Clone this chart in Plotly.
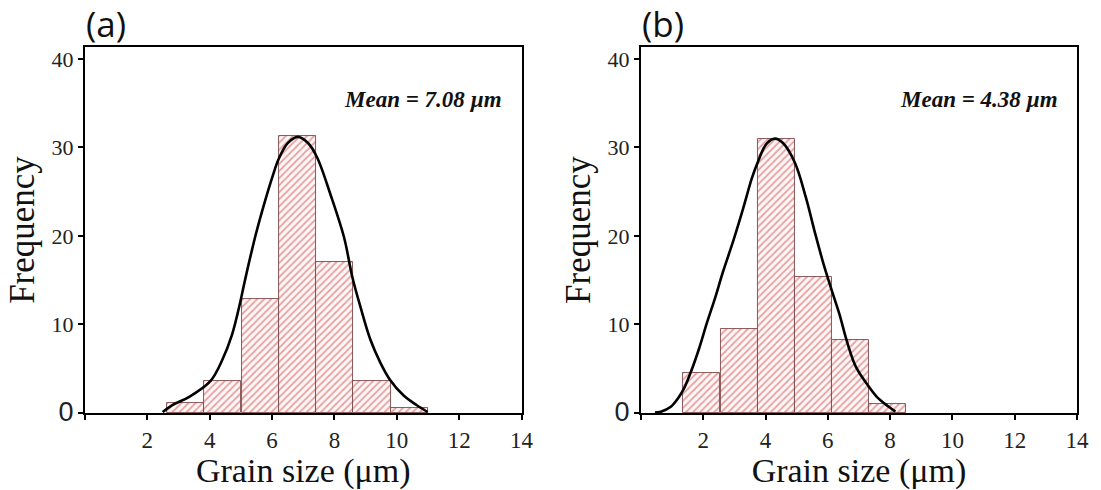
import plotly.graph_objects as go

# ---------------- data ----------------
# panel (a)
a_bin_centers = [3.23, 4.42, 5.62, 6.81, 8.01, 9.20, 10.40]
a_bin_width = 1.195
a_freq = [1.1, 3.6, 12.9, 31.3, 17.1, 3.6, 0.6]
a_curve_x = [2.49, 2.80, 3.33, 4.02, 4.39, 4.71, 4.97, 5.13, 5.45, 5.77, 6.03, 6.21, 6.50,
             6.83, 7.15, 7.44, 7.88, 8.31, 8.57, 8.84, 9.15, 9.47, 9.79, 10.21, 10.63, 10.99]
a_curve_y = [0.1, 0.9, 1.8, 3.6, 5.9, 8.8, 12.4, 15.0, 19.8, 23.9, 26.9, 28.7, 30.5,
             31.2, 30.5, 28.9, 24.6, 19.8, 15.4, 11.9, 8.3, 5.7, 3.7, 2.0, 0.9, 0.1]
a_mean_text = "Mean = 7.08 µm"

# panel (b)
b_bin_centers = [1.95, 3.15, 4.34, 5.53, 6.72, 7.91]
b_bin_width = 1.19
b_freq = [4.5, 9.5, 31.0, 15.4, 8.2, 1.05]
b_curve_x = [0.45, 0.64, 0.96, 1.22, 1.38, 1.60, 1.86, 2.12, 2.39, 2.63, 2.97, 3.29, 3.56, 3.77,
             4.03, 4.30, 4.56, 4.94, 5.30, 5.60, 5.89, 6.15, 6.37, 6.63, 6.89, 7.21, 7.58, 7.96, 8.17]
b_curve_y = [0.05, 0.15, 0.7, 1.8, 2.75, 4.6, 7.2, 10.2, 13.1, 15.9, 19.5, 23.2, 26.5, 28.5,
             30.4, 31.0, 30.5, 28.3, 24.3, 20.2, 16.5, 13.6, 11.2, 7.9, 5.3, 3.5, 1.8, 0.7, 0.15]
b_mean_text = "Mean = 4.38 µm"

x_tick_vals = [0, 2, 4, 6, 8, 10, 12, 14]
x_tick_text = ["", "2", "4", "6", "8", "10", "12", "14"]
y_tick_vals = [0, 10, 20, 30, 40]
y_tick_text = ["<span style='font-family:Liberation Sans;font-size:27px'>0</span>",
               "10", "20", "30", "40"]
panel_labels = ["(a)", "(b)"]

# ---------------- styling ----------------
SERIF = "Liberation Serif"
HATCH = "#cf4a4a"
EDGE = "#7a4545"

fig = go.Figure()

def add_panel(centers, width, freq, cx, cy, xa, ya):
    fig.add_trace(go.Bar(
        x=centers, y=freq, width=width, xaxis=xa, yaxis=ya,
        marker=dict(color="white",
                    line=dict(color=EDGE, width=0.9),
                    pattern=dict(shape="/", fgcolor=HATCH, bgcolor="#fff8f8",
                                 size=5, solidity=0.35)),
        showlegend=False, hoverinfo="skip"))
    fig.add_trace(go.Scatter(
        x=cx, y=cy, mode="lines", xaxis=xa, yaxis=ya,
        line=dict(color="black", width=2.6, shape="spline", smoothing=1.0),
        showlegend=False, hoverinfo="skip"))

add_panel(a_bin_centers, a_bin_width, a_freq, a_curve_x, a_curve_y, "x", "y")
add_panel(b_bin_centers, b_bin_width, b_freq, b_curve_x, b_curve_y, "x2", "y2")

common_x = dict(range=[0, 14], tickmode="array", tickvals=x_tick_vals, ticktext=x_tick_text,
                ticks="outside", ticklen=5, tickwidth=1.5, tickcolor="black",
                showline=True, linecolor="black", linewidth=2, mirror=True,
                showgrid=False, zeroline=False,
                tickfont=dict(family=SERIF, size=23, color="#222"),
                title=dict(text="Grain size (μm)", font=dict(family=SERIF, size=34, color="#111"),
                           standoff=2))
common_y = dict(range=[0, 41.35], tickmode="array", tickvals=y_tick_vals, ticktext=y_tick_text,
                ticks="outside", ticklen=5, tickwidth=1.5, tickcolor="black",
                showline=True, linecolor="black", linewidth=2, mirror=True,
                showgrid=False, zeroline=False,
                tickfont=dict(family=SERIF, size=22, color="#222"),
                title=dict(text="Frequency", font=dict(family=SERIF, size=35, color="#111"),
                           standoff=6))

fig.update_layout(
    width=1101, height=490,
    margin=dict(l=85, r=14, t=47, b=72),
    paper_bgcolor="white", plot_bgcolor="white",
    bargap=0,
    xaxis=dict(domain=[0, 0.4401], anchor="y", **common_x),
    yaxis=dict(domain=[0, 1], anchor="x", **common_y),
    xaxis2=dict(domain=[0.5604, 1], anchor="y2", **common_x),
    yaxis2=dict(domain=[0, 1], anchor="x2", **common_y),
)

for xr, txt in (("x", a_mean_text), ("x2", b_mean_text)):
    fig.add_annotation(text="<b><i>" + txt + "</i></b>", xref=xr + " domain", yref="y",
                       x=0.96, y=35.4, xanchor="right", yanchor="middle", showarrow=False,
                       font=dict(family=SERIF, size=23, color="#111"))

for xr, lab in (("x", panel_labels[0]), ("x2", panel_labels[1])):
    fig.add_annotation(text=lab, xref=xr + " domain", yref="paper",
                       x=-0.002, y=0.995, xanchor="left", yanchor="bottom", showarrow=False,
                       font=dict(family="Open Sans", size=35, color="#111"))

fig.write_html("out.html")
